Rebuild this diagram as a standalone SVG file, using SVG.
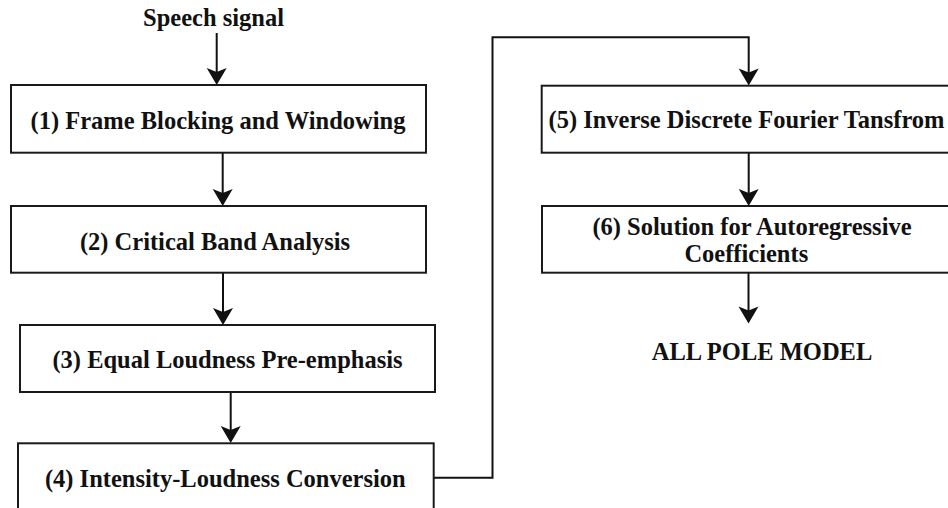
<svg xmlns="http://www.w3.org/2000/svg" width="948" height="508" viewBox="0 0 948 508">
  <defs>
    <style>
      .box { fill: #ffffff; stroke: #1a1a1a; stroke-width: 2; }
      .lbl { font-family: "Liberation Serif", "Times New Roman", serif; font-weight: bold; font-size: 24.5px; fill: #111111; text-anchor: middle; }
      .wire { fill: none; stroke: #111111; stroke-width: 2; }
      .head { fill: #111111; stroke: none; }
    </style>
    <!-- filled arrowhead with a shallow notch; tip at the origin pointing down -->
    <path id="ah" class="head" d="M0,0 L-10,-17 L0,-13 L10,-17 Z"/>
  </defs>
  <rect width="948" height="508" fill="#ffffff"/>

  <!-- input / output labels -->
  <text class="lbl" x="213.5" y="25.5">Speech signal</text>
  <text class="lbl" x="762" y="359.5">ALL POLE MODEL</text>

  <!-- connectors -->
  <g id="connectors">
    <line class="wire" x1="216.7" y1="33" x2="216.7" y2="75"/>
    <use href="#ah" x="216.7" y="85"/>

    <line class="wire" x1="222.7" y1="153" x2="222.7" y2="196"/>
    <use href="#ah" x="222.7" y="206"/>

    <line class="wire" x1="223" y1="273" x2="223" y2="315"/>
    <use href="#ah" x="223" y="325"/>

    <line class="wire" x1="230.7" y1="392" x2="230.7" y2="433"/>
    <use href="#ah" x="230.7" y="443"/>

    <polyline class="wire" points="433.5,477.7 492.5,477.7 492.5,37.3 748.7,37.3 748.7,76"/>
    <use href="#ah" x="748.7" y="85.5"/>

    <line class="wire" x1="748.7" y1="153" x2="748.7" y2="196"/>
    <use href="#ah" x="748.7" y="206"/>

    <line class="wire" x1="748.5" y1="273" x2="748.5" y2="314"/>
    <use href="#ah" x="748.5" y="323.5"/>
  </g>

  <!-- processing stages -->
  <g id="stage1">
    <rect class="box" x="11" y="85" width="415" height="67.7"/>
    <text class="lbl" x="218" y="128.5">(1) Frame Blocking and Windowing</text>
  </g>
  <g id="stage2">
    <rect class="box" x="11" y="206" width="415" height="66.7"/>
    <text class="lbl" x="215" y="249.5">(2) Critical Band Analysis</text>
  </g>
  <g id="stage3">
    <rect class="box" x="20" y="325" width="415" height="67"/>
    <text class="lbl" x="227.5" y="368.3">(3) Equal Loudness Pre-emphasis</text>
  </g>
  <g id="stage4">
    <rect class="box" x="18" y="443.3" width="415.7" height="80"/>
    <text class="lbl" x="225.3" y="487.3">(4) Intensity-Loudness Conversion</text>
  </g>
  <g id="stage5">
    <rect class="box" x="541.7" y="85.7" width="420" height="67"/>
    <text class="lbl" x="746.5" y="128.3">(5) Inverse Discrete Fourier Tansfrom</text>
  </g>
  <g id="stage6">
    <rect class="box" x="542" y="206" width="420" height="66.7"/>
    <text class="lbl" x="752" y="235">(6) Solution for Autoregressive</text>
    <text class="lbl" x="746.3" y="261.7">Coefficients</text>
  </g>
</svg>
